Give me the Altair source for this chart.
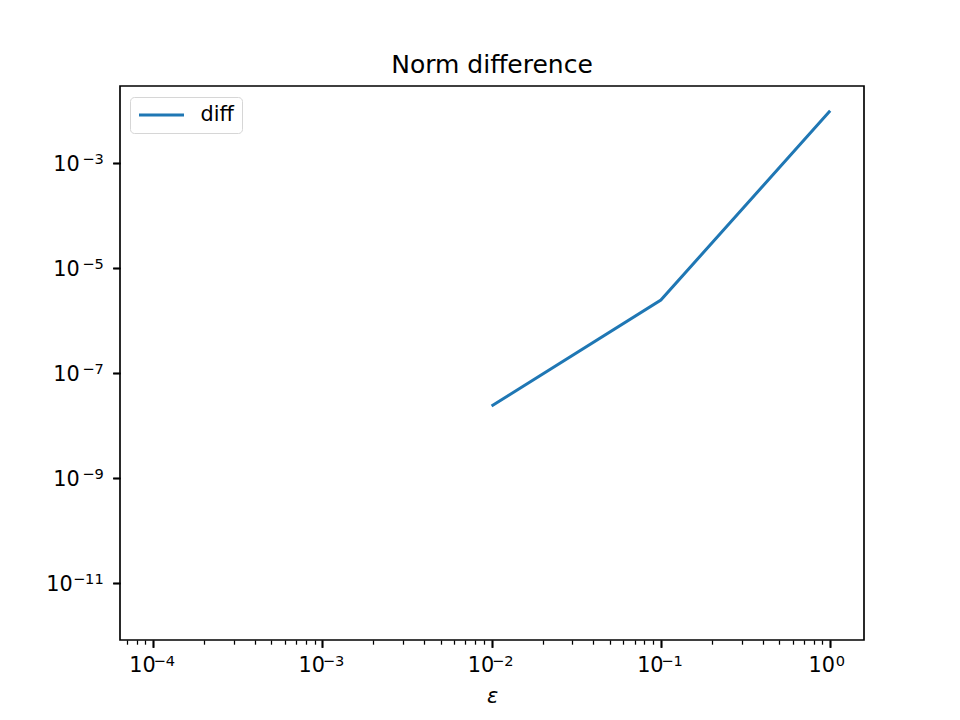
import altair as alt
import pandas as pd

# data
eps = [0.01, 0.1, 1.0]
diff = [2.35e-8, 2.47e-6, 1.0e-2]
series = ["diff", "diff", "diff"]

df = pd.DataFrame({"eps": eps, "diff": diff, "series": series})
anchor = pd.DataFrame({"eps": [1.0], "diff": [1.0e-2]})

x_major = [1e-4, 1e-3, 1e-2, 1e-1, 1.0]
y_major = [1e-11, 1e-9, 1e-7, 1e-5, 1e-3]
x_dom = [10 ** -4.195, 10 ** 0.2]
y_dom = [10 ** -12.09, 10 ** -1.526]
x_minor = [m * 10.0 ** e for e in range(-5, 1) for m in range(2, 10)
           if x_dom[0] <= m * 10.0 ** e <= x_dom[1]]

FONT = "DejaVu Sans"
BIG = 20.8
SMALL = 14.6
TICK = 7.3
TW = 1.67

EXP_EXPR = ("round(log(datum.value)/LN10) == 0 ? '0' : "
            "'\u2212' + toString(-round(log(datum.value)/LN10))")

xscale = alt.Scale(type="log", domain=x_dom, nice=False)
yscale = alt.Scale(type="log", domain=y_dom, nice=False)

common = dict(domain=False, grid=False, labelFlush=False, labelOverlap=False,
              tickColor="black", labelColor="black", labelFont=FONT)

# layer 1: the line, with "10" part of tick labels and the x title
line = alt.Chart(df).mark_line(strokeWidth=3, clip=True).encode(
    x=alt.X("eps:Q", scale=xscale,
            axis=alt.Axis(values=x_major, labelExpr="'10'", orient="bottom",
                          labelFontSize=BIG, tickSize=TICK, tickWidth=TW,
                          labelAlign="center", labelBaseline="top", labelPadding=8,
                          labelOffset={"condition": {"test": "datum.value > 0.5", "value": -9},
                                       "value": -11},
                          title="ε", titleFont=FONT, titleFontSize=BIG,
                          titleFontStyle="italic", titleFontWeight="normal",
                          titleColor="black", titleBaseline="alphabetic",
                          titleY=62.5, **common)),
    y=alt.Y("diff:Q", scale=yscale,
            axis=alt.Axis(values=y_major, labelExpr="'10'", orient="left",
                          labelFontSize=BIG, tickSize=TICK, tickWidth=TW,
                          labelAlign="right", labelBaseline="middle", labelOffset=1.5,
                          labelPadding={"condition": {"test": "datum.value < 1e-10", "value": 40.5},
                                        "value": 33.5},
                          title=None, **common)),
    color=alt.Color("series:N",
                    scale=alt.Scale(domain=["diff"], range=["#1f77b4"]),
                    legend=alt.Legend(title=None, orient="none", legendX=10, legendY=11,
                                      symbolType="M-1,0H4", symbolSize=324,
                                      symbolStrokeWidth=3, labelFont=FONT,
                                      labelFontSize=BIG, labelColor="black",
                                      labelOffset=42, strokeColor="#d6d6d6",
                                      fillColor="white",
                                      cornerRadius=4, padding=7.5, rowPadding=0)),
)

# layer 2: superscript exponents of the tick labels
expo = alt.Chart(anchor).mark_point(opacity=0).encode(
    x=alt.X("eps:Q", scale=xscale,
            axis=alt.Axis(values=x_major, labelExpr=EXP_EXPR, orient="bottom",
                          labelFontSize=SMALL, tickSize=TICK, tickWidth=TW,
                          labelAlign="left", labelBaseline="top", labelPadding=6.5,
                          labelOffset={"condition": {"test": "datum.value > 0.5", "value": 5},
                                       "value": 0},
                          title=None, **common)),
    y=alt.Y("diff:Q", scale=yscale,
            axis=alt.Axis(values=y_major, labelExpr=EXP_EXPR, orient="left",
                          labelFontSize=SMALL, tickSize=TICK, tickWidth=TW,
                          labelAlign="right", labelBaseline="middle", labelOffset=-3.5,
                          labelPadding=9.5, title=None, **common)),
)

# layer 3: minor ticks on the x axis
minor = alt.Chart(anchor).mark_point(opacity=0).encode(
    x=alt.X("eps:Q", scale=xscale,
            axis=alt.Axis(values=x_minor, labels=False, orient="bottom", title=None,
                          tickSize=4.2, tickWidth=1.25, **common)),
    y=alt.Y("diff:Q", scale=yscale, axis=None),
)

chart = alt.layer(line, expo, minor).resolve_axis(
    x="independent", y="independent"
).properties(
    width=744, height=554,
    background="white",
    title=alt.TitleParams("Norm difference", font=FONT, fontSize=25,
                          fontWeight="normal", color="black", offset=12.5,
                          baseline="alphabetic", dy=24.5),
    autosize=alt.AutoSizeParams(type="none"),
    padding={"left": 120, "top": 86, "right": 96, "bottom": 80},
).configure_view(stroke="black", strokeWidth=TW)

chart.save("out.html", embed_options={"renderer": "svg", "actions": False})
